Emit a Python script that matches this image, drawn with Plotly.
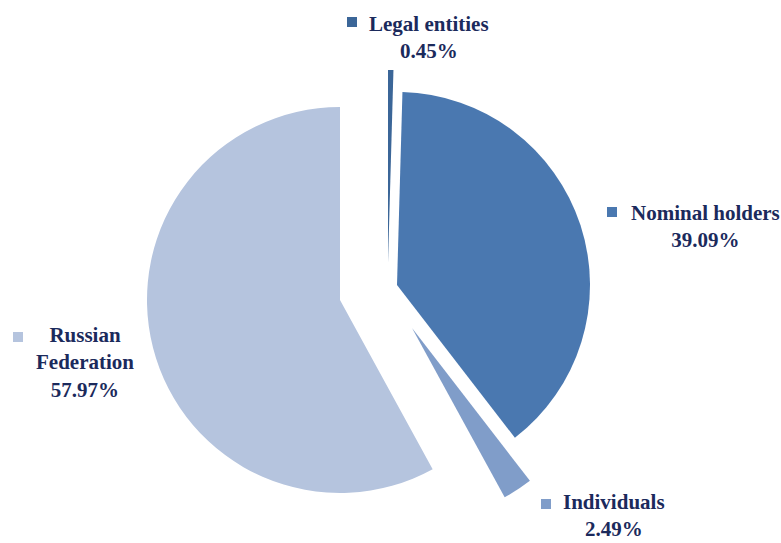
import plotly.graph_objects as go

# Shareholder structure
labels = ["Legal entities", "Nominal holders", "Individuals", "Russian Federation"]
shares = [0.45, 39.09, 2.49, 57.97]
colors = ["#3B6698", "#4A78B0", "#809DC9", "#B5C4DE"]

W, H = 781, 543
R = 193                      # pie radius, px
CENTER = (340, 300)          # centre of the un-exploded pie, px
# per-slice explosion offsets (dx, dy) in px, screen coordinates
offsets = [(48, -37), (57, -15), (72, 28), (0, 0)]


def domain_for(cx, cy):
    return dict(x=[(cx - R) / W, (cx + R) / W],
                y=[1 - (cy + R) / H, 1 - (cy - R) / H])


fig = go.Figure()
for i, (dx, dy) in enumerate(offsets):
    slice_colors = [c if j == i else "rgba(0,0,0,0)" for j, c in enumerate(colors)]
    fig.add_trace(go.Pie(
        labels=labels, values=shares, sort=False, direction="clockwise", rotation=0,
        marker=dict(colors=slice_colors, line=dict(width=0)),
        textinfo="none", hoverinfo="label+percent" if i == 0 else "skip",
        showlegend=False,
        domain=domain_for(CENTER[0] + dx, CENTER[1] + dy),
    ))

# label blocks: display name, text x-centre, text y-centre, legend-square corner (px)
label_layout = {
    "Legal entities": ("Legal entities", 429, 37, (347, 17)),
    "Nominal holders": ("Nominal holders", 705, 226, (607, 207)),
    "Individuals": ("Individuals", 614, 515, (541, 499)),
    "Russian Federation": ("Russian<br>Federation", 85, 362, (13, 332)),
}

FONT = dict(family="Liberation Serif, Times New Roman, serif", size=21, color="#1B2A5C")

annotations, shapes = [], []
for name, val, col in zip(labels, shares, colors):
    text, tx, ty, (sx, sy) = label_layout[name]
    annotations.append(dict(
        x=tx / W, y=1 - ty / H, xref="paper", yref="paper",
        text=f"<b>{text}<br>{val:.2f}%</b>", showarrow=False,
        xanchor="center", yanchor="middle", align="center", font=FONT,
    ))
    shapes.append(dict(
        type="rect", xref="paper", yref="paper",
        x0=sx / W, x1=(sx + 10) / W, y0=1 - (sy + 10) / H, y1=1 - sy / H,
        fillcolor=col, line=dict(width=0),
    ))

fig.update_layout(
    width=W, height=H, margin=dict(l=0, r=0, t=0, b=0),
    paper_bgcolor="white", plot_bgcolor="white",
    annotations=annotations, shapes=shapes,
)

fig.write_html("out.html")
